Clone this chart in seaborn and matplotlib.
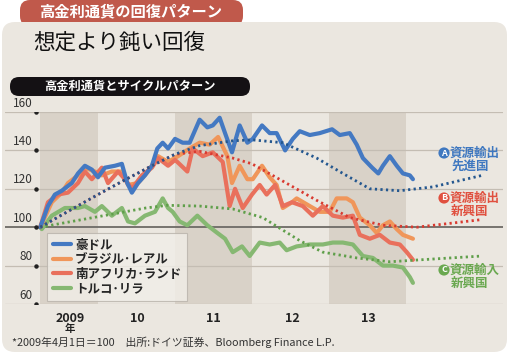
import matplotlib
matplotlib.use("Agg")
import numpy as np
import pandas as pd
import matplotlib.pyplot as plt
import seaborn as sns
from matplotlib.patches import FancyBboxPatch
from matplotlib.lines import Line2D

# ---- data (index, 2009/4/1 = 100), x in decimal years ----
aud_t = [2009.25, 2009.35, 2009.44, 2009.53, 2009.66, 2009.74, 2009.83, 2009.92, 2010.00, 2010.09,
         2010.22, 2010.31, 2010.38, 2010.44, 2010.52, 2010.61, 2010.70, 2010.77, 2010.84, 2010.91,
         2011.00, 2011.10, 2011.19, 2011.32, 2011.42, 2011.49, 2011.58, 2011.65, 2011.74, 2011.84,
         2011.94, 2012.01, 2012.13, 2012.23, 2012.32, 2012.43, 2012.53, 2012.62, 2012.75, 2012.88,
         2013.04, 2013.14, 2013.27, 2013.36, 2013.44, 2013.56, 2013.64, 2013.70, 2013.79, 2013.88,
         2013.96, 2014.05, 2014.09]
aud_v = [100, 111, 117, 119, 123, 128, 132, 130, 126, 131,
         132, 133, 123, 118, 123, 127, 132, 141, 144, 141,
         146, 144, 144, 156, 152, 153, 157, 149, 139, 153,
         144, 146, 153, 149, 149, 140, 146, 150, 148, 149,
         151, 148, 149, 143, 136, 131, 128, 132, 137, 132,
         128, 127, 125]

brl_t = [2009.25, 2009.40, 2009.53, 2009.61, 2009.74, 2009.83, 2009.96, 2010.05, 2010.18, 2010.31,
         2010.39, 2010.52, 2010.65, 2010.78, 2010.91, 2011.04, 2011.19, 2011.32, 2011.45, 2011.56,
         2011.68, 2011.74, 2011.84, 2011.94, 2012.01, 2012.13, 2012.23, 2012.32, 2012.40, 2012.52,
         2012.58, 2012.75, 2012.88, 2013.01, 2013.10, 2013.23, 2013.31, 2013.40, 2013.53, 2013.62,
         2013.70, 2013.79, 2013.88, 2013.96, 2014.09]
brl_v = [100, 113, 118, 123, 127, 131, 129, 127, 129, 129,
         122, 123, 129, 137, 134, 137, 141, 144, 143, 147,
         137, 123, 132, 125, 125, 132, 126, 122, 110, 113,
         115, 111, 108, 108, 115, 115, 113, 105, 101, 97,
         101, 103, 99, 96, 94]

zar_t = [2009.25, 2009.35, 2009.48, 2009.61, 2009.74, 2009.83, 2009.92, 2010.05, 2010.13, 2010.26,
         2010.35, 2010.44, 2010.57, 2010.70, 2010.78, 2010.91, 2011.00, 2011.03, 2011.16, 2011.23,
         2011.36, 2011.49, 2011.62, 2011.71, 2011.78, 2011.88, 2012.00, 2012.10, 2012.19, 2012.30,
         2012.40, 2012.52, 2012.66, 2012.79, 2012.92, 2013.05, 2013.18, 2013.31, 2013.40, 2013.53,
         2013.66, 2013.79, 2013.92, 2014.01, 2014.09]
zar_v = [100, 113, 117, 118, 123, 129, 125, 131, 123, 129,
         125, 120, 127, 131, 136, 132, 135, 134, 129, 141,
         137, 139, 134, 111, 120, 110, 117, 122, 117, 122,
         111, 113, 111, 106, 111, 106, 105, 106, 96, 94,
         96, 92, 91, 87, 83]

try_t = [2009.25, 2009.27, 2009.40, 2009.57, 2009.74, 2009.83, 2009.96, 2010.05, 2010.18, 2010.31,
         2010.39, 2010.48, 2010.61, 2010.74, 2010.84, 2010.91, 2010.97, 2011.06, 2011.16, 2011.29,
         2011.42, 2011.55, 2011.65, 2011.75, 2011.87, 2011.97, 2012.10, 2012.23, 2012.36, 2012.45,
         2012.58, 2012.75, 2012.92, 2013.05, 2013.18, 2013.31, 2013.44, 2013.57, 2013.70, 2013.83,
         2013.96, 2014.05, 2014.09]
try_v = [100, 99, 106, 110, 110, 111, 108, 111, 106, 110,
         103, 102, 106, 108, 115, 110, 108, 103, 101, 106,
         101, 97, 94, 87, 90, 85, 92, 91, 92, 88,
         90, 91, 91, 92, 92, 91, 85, 84, 80, 80,
         79, 74, 71]

# cycle pattern (dotted)
cycA_t = [2009.25, 2009.60, 2010.00, 2010.32, 2010.70, 2011.00, 2011.32, 2011.75, 2012.00, 2012.40,
          2012.84, 2013.18, 2013.53, 2013.92, 2014.35, 2014.99]
cycA_v = [100, 108, 117, 124, 132, 138, 142.5, 145, 145.5, 144,
          136, 128, 120, 119, 121, 127]
cycB_t = [2009.25, 2009.60, 2010.00, 2010.32, 2010.70, 2011.00, 2011.32, 2011.75, 2012.00, 2012.40,
          2012.84, 2013.27, 2013.70, 2014.14, 2014.57, 2014.99]
cycB_v = [100, 108, 117, 124, 132, 138, 139.5, 136, 133, 124,
          114, 105, 101, 100, 102, 104]
cycC_t = [2009.25, 2010.62, 2010.90, 2011.32, 2011.75, 2012.14, 2012.36, 2012.62, 2012.92, 2013.36,
          2013.79, 2014.18, 2014.99]
cycC_v = [100, 110, 111.4, 111, 109.5, 105, 99.5, 93, 87, 84,
          82, 83, 85]

names = ["豪ドル", "ブラジル･レアル", "南アフリカ･ランド", "トルコ･リラ"]
colors = ["#4479c2", "#f0965a", "#e9705c", "#86b872"]
year_labels = ["2009", "10", "11", "12", "13"]
yticks = [60, 80, 100, 120, 140, 160]

# ---- figure ----
W, H = 509, 355
sns.set_style("white")
plt.rcParams['font.family'] = ['Noto Sans CJK JP', 'DejaVu Sans']

fig = plt.figure(figsize=(W / 100, H / 100), dpi=100, facecolor="white")


def fx(x):
    return x / W


def fy(y):
    return 1 - y / H


# background panel and header tab (pixel coords via inches)
tr = fig.dpi_scale_trans
fig.patches.append(FancyBboxPatch((20 / 100, (H - 26) / 100), 223 / 100, 26 / 100,
                                  boxstyle="round,pad=0,rounding_size=0.1",
                                  fc="#c0594b", ec="none", transform=tr, figure=fig,
                                  zorder=-10))
fig.patches.append(FancyBboxPatch((2 / 100, 3 / 100), 505 / 100, (H - 25) / 100,
                                  boxstyle="round,pad=0,rounding_size=0.13",
                                  fc="#ebe7e0", ec="none", transform=tr, figure=fig,
                                  zorder=-9))
fig.patches.append(FancyBboxPatch((10 / 100, (H - 96) / 100), 240 / 100, 19 / 100,
                                  boxstyle="round,pad=0,rounding_size=0.09",
                                  fc="#141114", ec="none", transform=tr, figure=fig,
                                  zorder=-8))

fig.text(fx(131), fy(11), "高金利通貨の回復パターン", color="white", fontsize=11,
         fontweight="bold", ha="center", va="center")
fig.text(fx(33), fy(43), "想定より鈍い回復", color="#111111", fontsize=15.5,
         ha="left", va="center")
fig.text(fx(130), fy(86), "高金利通貨とサイクルパターン", color="white", fontsize=8.8,
         fontweight="bold", ha="center", va="center")

# axes: x pixel 5..503, y pixel 112..304
ax = fig.add_axes([fx(5), fy(304), fx(503) - fx(5), fy(112) - fy(304)])
ax.patch.set_alpha(0)
x_left = 2010 + (5 - 98) / 77
x_right = 2010 + (503 - 98) / 77
ax.set_xlim(x_left, x_right)
ax.set_ylim(60, 160)

for a, b in [(2009.25, 2010), (2011, 2012), (2013, 2014)]:
    ax.axvspan(a, b, color="#d9d2c8", lw=0, zorder=0)
for v in yticks:
    ax.axhline(v, color="#6d6a66" if v == 100 else "#c4bdb3",
               lw=1.3 if v == 100 else 0.9, zorder=1)
    ax.text(2010 + (33 - 98) / 77, v + 1.2, str(v), ha="right", va="bottom",
            fontsize=8.5, color="#333333")
    ax.plot([2010 + (36 - 98) / 77], [v], "o", ms=2.2, color="#222222", zorder=5)

series = [(try_t, try_v, 3), (brl_t, brl_v, 1), (zar_t, zar_v, 2), (aud_t, aud_v, 0)]
for t, v, i in series:
    df = pd.DataFrame({"t": t, "v": v})
    sns.lineplot(data=df, x="t", y="v", ax=ax, color=colors[i], lw=3.0,
                 zorder=3, solid_joinstyle="round")

cycles = [(cycC_t, cycC_v, "#5f9f4a"), (cycB_t, cycB_v, "#d93a30"), (cycA_t, cycA_v, "#24578f")]
for t, v, c in cycles:
    df = pd.DataFrame({"t": t, "v": v})
    sns.lineplot(data=df, x="t", y="v", ax=ax, color=c, lw=2.0,
                 linestyle=(0, (0.8, 1.2)), zorder=4)

ax.set_xlabel("")
ax.set_ylabel("")
ax.set_xticks([])
ax.set_yticks([])
for s in ax.spines.values():
    s.set_visible(False)

# legend
handles = [Line2D([0], [0], color=c, lw=3) for c in colors]
leg = ax.legend(handles, names, loc="upper left", bbox_to_anchor=(fx(47), fy(233)),
                bbox_transform=fig.transFigure, borderaxespad=0, fancybox=False,
                frameon=True, handlelength=1.5, handletextpad=0.3, labelspacing=0.12,
                borderpad=0.45, prop={"size": 9, "weight": "bold"})
leg.get_frame().set_facecolor("#f1eee8")
leg.get_frame().set_edgecolor("#b8b2aa")
leg.get_frame().set_linewidth(0.8)
leg.set_zorder(6)

# year labels
for lab, x in zip(year_labels, [70, 137, 213, 292, 368]):
    fig.text(fx(x), fy(318), lab, ha="center", va="center", fontsize=9,
             fontweight="bold", color="#222222")
fig.text(fx(70), fy(329), "年", ha="center", va="center", fontsize=7.5,
         fontweight="bold", color="#222222")

# annotations
notes = [("A", "資源輸出", "先進国", "#3f78c0", 153),
         ("B", "資源輸出", "新興国", "#e0503f", 198),
         ("C", "資源輸入", "新興国", "#6aa850", 270)]
for letter, l1, l2, c, y in notes:
    fig.text(fx(444), fy(y), letter, ha="center", va="center", fontsize=6.5,
             fontweight="bold", color="white",
             bbox=dict(boxstyle="circle,pad=0.12", fc=c, ec="none"))
    fig.text(fx(450), fy(y), l1, ha="left", va="center", fontsize=9,
             fontweight="bold", color=c)
    fig.text(fx(470), fy(y + 13), l2, ha="center", va="center", fontsize=9,
             fontweight="bold", color=c)

fig.text(fx(12), fy(342), "*2009年4月1日＝100　出所:ドイツ証券、Bloomberg Finance L.P.",
         ha="left", va="center", fontsize=7.8, color="#333333")

fig.savefig("out.png", dpi=100, facecolor="white")
